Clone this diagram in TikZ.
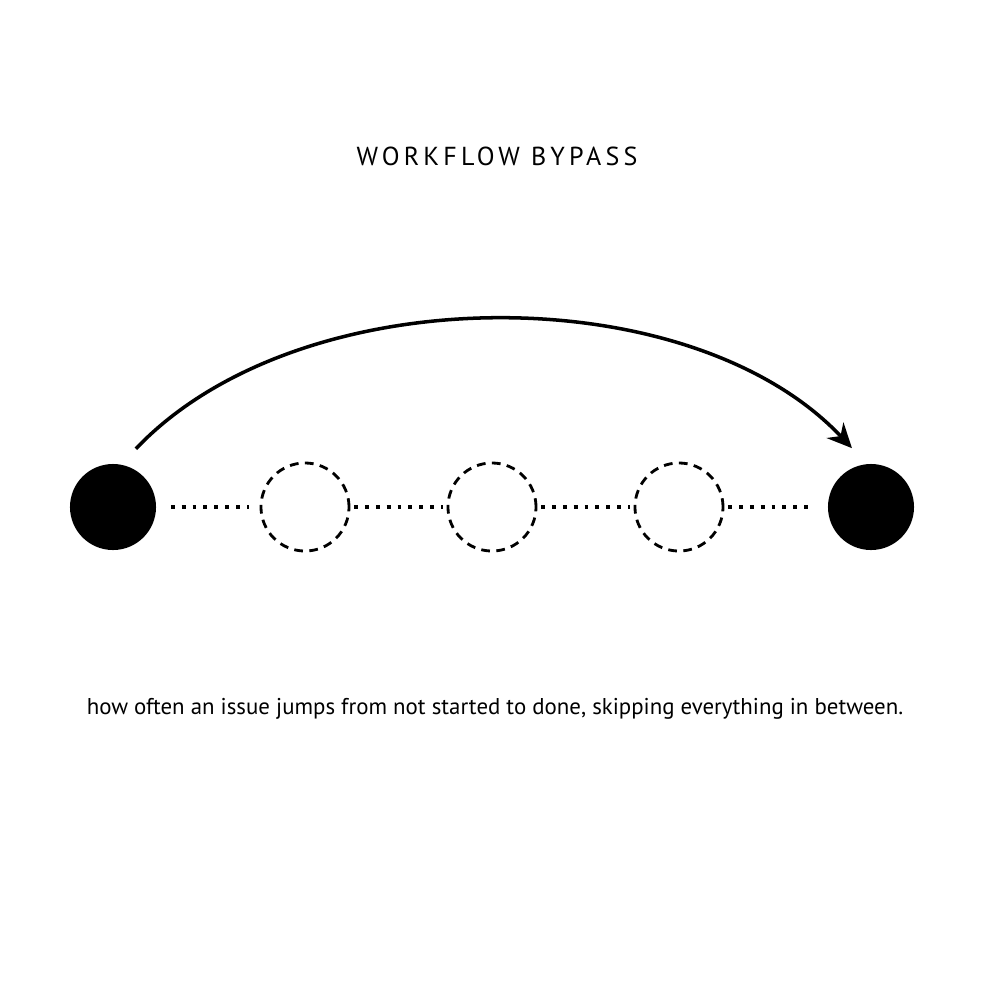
\documentclass[tikz,border=0pt]{standalone}
\usepackage{fontspec}
\setmainfont{PT Sans}
\usetikzlibrary{arrows.meta}
\tikzset{
  % end states and skipped states
  state/.style={circle, fill=black, minimum size=0.86cm, inner sep=0pt},
  skipped/.style={circle, draw=black, dash pattern=on 2.5pt off 1.8pt, line width=0.8pt, minimum size=0.88cm, inner sep=0pt},
  link/.style={dotted, line width=1.1pt},
}
\begin{document}
\begin{tikzpicture}[x=0.01cm, y=-0.01cm]
  \useasboundingbox (0,0) rectangle (999,999);
  \node at (497,156) {\addfontfeature{LetterSpace=16}\fontsize{7.4}{9}\selectfont WORKFLOW BYPASS};

  \node[state] (start) at (113,507) {};
  \node[skipped] (s1) at (305,507) {};
  \node[skipped] (s2) at (492,507) {};
  \node[skipped] (s3) at (679,507) {};
  \node[state] (done) at (871,507) {};

  \draw[link, shorten <=4pt, shorten >=3pt] (start) -- (s1);
  \draw[link, shorten <=1pt, shorten >=1pt] (s1) -- (s2);
  \draw[link, shorten <=1pt, shorten >=1pt] (s2) -- (s3);
  \draw[link, shorten <=1pt, shorten >=4pt] (s3) -- (done);

  \draw[-{Stealth[length=7pt,width=6.5pt]}, line width=1pt, shorten <=6pt, shorten >=6pt]
    (start.79) .. controls (300,276) and (690,276) .. (done.96);

  \node (caption) at (495,709) {\fontsize{6.5}{8}\selectfont how often an issue jumps from not started to done, skipping everything in between.};
\end{tikzpicture}
\end{document}
